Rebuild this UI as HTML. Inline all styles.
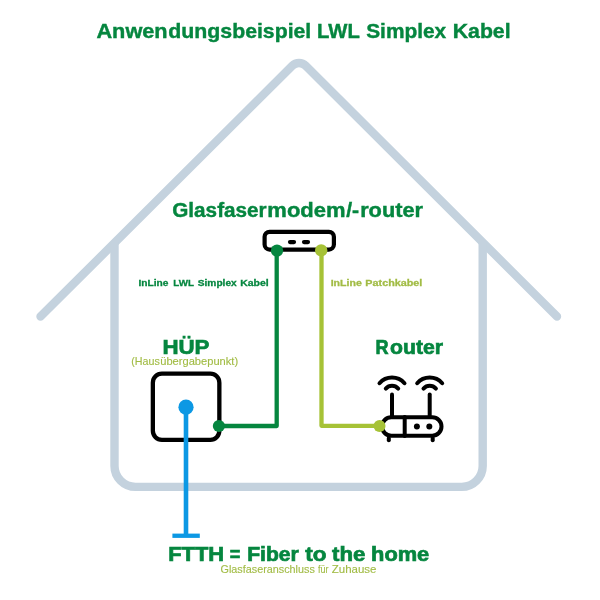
<!DOCTYPE html>
<html><head><meta charset="utf-8">
<style>
html,body{margin:0;padding:0;background:#fff;width:600px;height:600px;overflow:hidden}
svg{display:block;will-change:transform}
text{font-family:"Liberation Sans",sans-serif}
</style></head>
<body>
<svg width="600" height="600" viewBox="0 0 600 600">
<rect width="600" height="600" fill="#fff"/>
<g fill="none" stroke="#c4d2de" stroke-width="8.4" stroke-linecap="round" stroke-linejoin="round">
<path d="M40.5 316.6 L292.28 65.72 A9.5 9.5 0 0 1 305.72 65.72 L557 316.5"/>
<path d="M114.5 242.5 V466 A21 21 0 0 0 135.5 486.9 H461.7 A21 21 0 0 0 482.7 466 V243" stroke-linecap="butt"/>
</g>
<g fill="none" stroke="#000" stroke-width="4.2" stroke-linecap="round">
<rect x="264.6" y="231.8" width="69.3" height="17.8" rx="5"/>
<line x1="290" y1="242.1" x2="294" y2="242.1"/>
<line x1="304" y1="242.1" x2="308" y2="242.1"/>
</g>
<rect x="152.85" y="373.65" width="66.5" height="66.2" rx="9" fill="none" stroke="#000" stroke-width="4.3"/>
<g fill="none" stroke="#000" stroke-width="4" stroke-linecap="round">
<rect x="382" y="417.3" width="59.5" height="18.4" rx="9.2"/>
<line x1="404.7" y1="417" x2="404.7" y2="436"/>
<line x1="392" y1="394.4" x2="392" y2="417"/>
<line x1="429.7" y1="394.4" x2="429.7" y2="417"/>
<line x1="388.8" y1="438" x2="388.8" y2="440.2"/>
<line x1="432.7" y1="438" x2="432.7" y2="440.2"/>
<path d="M379.5 383.2 A16.6 16.6 0 0 1 404.5 383.2"/>
<path d="M385.8 388.6 A8.4 8.4 0 0 1 398.2 388.6"/>
<path d="M417.2 383.2 A16.6 16.6 0 0 1 442.2 383.2"/>
<path d="M423.5 388.6 A8.4 8.4 0 0 1 435.9 388.6"/>
</g>
<circle cx="416.9" cy="426.6" r="3" fill="#000"/>
<circle cx="429.3" cy="426.6" r="3" fill="#000"/>
<g stroke="#0c98e4" fill="none">
<line x1="186" y1="407" x2="186" y2="536" stroke-width="4.6"/>
<line x1="172.4" y1="535.75" x2="199.8" y2="535.75" stroke-width="4.3"/>
</g>
<circle cx="186" cy="407.2" r="7.6" fill="#0c98e4"/>
<path d="M218.7 426 H276.7 V250" fill="none" stroke="#05863f" stroke-width="4.3" stroke-linejoin="round"/>
<circle cx="218.9" cy="426" r="6.1" fill="#05863f"/>
<circle cx="277" cy="250.6" r="6.2" fill="#05863f"/>
<path d="M321.5 250 V425.8 H380" fill="none" stroke="#a6c236" stroke-width="4.3" stroke-linejoin="round"/>
<circle cx="321.2" cy="250.4" r="6.2" fill="#a6c236"/>
<circle cx="379.5" cy="426" r="6" fill="#a6c236"/>

<text transform="translate(96.43 37.65) scale(1.0656 1)" font-size="20.4" font-weight="bold" fill="#05863f" stroke="#05863f" stroke-width="0.4">Anwen</text>
<text transform="translate(168.22 37.65) scale(1.0460 1)" font-size="20.4" font-weight="bold" fill="#05863f" stroke="#05863f" stroke-width="0.4">dungs</text>
<text transform="translate(232.20 37.65) scale(1.0408 1)" font-size="20.4" font-weight="bold" fill="#05863f" stroke="#05863f" stroke-width="0.4">beispiel</text>
<text transform="translate(317.06 37.65) scale(0.9939 1)" font-size="20.4" font-weight="bold" fill="#05863f" stroke="#05863f" stroke-width="0.4">LWL</text>
<text transform="translate(366.19 37.65) scale(1.0238 1)" font-size="20.4" font-weight="bold" fill="#05863f" stroke="#05863f" stroke-width="0.4">Simplex</text>
<text transform="translate(452.70 37.65) scale(1.0434 1)" font-size="20.4" font-weight="bold" fill="#05863f" stroke="#05863f" stroke-width="0.4">Kabel</text>
<text transform="translate(172.22 217.1) scale(1.0684 1)" font-size="19.4" font-weight="bold" fill="#05863f" stroke="#05863f" stroke-width="0.4">Glasfaser</text>
<text transform="translate(267.37 217.1) scale(1.1343 1)" font-size="19.4" font-weight="bold" fill="#05863f" stroke="#05863f" stroke-width="0.4">modem</text>
<text transform="translate(346.25 217.1) scale(1.0889 1)" font-size="19.4" font-weight="bold" fill="#05863f" stroke="#05863f" stroke-width="0.4">/-</text>
<text transform="translate(360.13 217.1) scale(1.1227 1)" font-size="19.4" font-weight="bold" fill="#05863f" stroke="#05863f" stroke-width="0.4">router</text>
<text transform="translate(138.38 286.1) scale(1.0407 1)" font-size="9.8" font-weight="bold" fill="#05863f" stroke="#05863f" stroke-width="0.3">InLine</text>
<text transform="translate(173.20 286.1) scale(1.0000 1)" font-size="9.8" font-weight="bold" fill="#05863f" stroke="#05863f" stroke-width="0.3">LWL</text>
<text transform="translate(197.74 286.1) scale(1.0400 1)" font-size="9.8" font-weight="bold" fill="#05863f" stroke="#05863f" stroke-width="0.3">Simplex</text>
<text transform="translate(240.16 286.1) scale(1.0718 1)" font-size="9.8" font-weight="bold" fill="#05863f" stroke="#05863f" stroke-width="0.3">Kabel</text>
<text transform="translate(330.66 286.1) scale(1.0814 1)" font-size="9.8" font-weight="bold" fill="#a2bc45" stroke="#a2bc45" stroke-width="0.3">InLine</text>
<text transform="translate(365.35 286.1) scale(1.1034 1)" font-size="9.8" font-weight="bold" fill="#a2bc45" stroke="#a2bc45" stroke-width="0.3">Patchkabel</text>
<text transform="translate(162.42 353.9) scale(1.0769 1)" font-size="20.7" font-weight="bold" fill="#05863f" stroke="#05863f" stroke-width="0.7">HÜP</text>
<text transform="translate(131.28 364.6) scale(1.0430 1)" font-size="10.3" font-weight="normal" fill="#a2bc45" stroke="#a2bc45" stroke-width="0.12">(Haus</text>
<text transform="translate(160.19 364.6) scale(1.0813 1)" font-size="10.3" font-weight="normal" fill="#a2bc45" stroke="#a2bc45" stroke-width="0.12">übergabepunkt)</text>
<text transform="translate(375.38 353.8) scale(0.8750 1)" font-size="20.7" font-weight="bold" fill="#05863f" stroke="#05863f" stroke-width="0.7">R</text>
<text transform="translate(389.99 353.8) scale(1.0244 1)" font-size="20.7" font-weight="bold" fill="#05863f" stroke="#05863f" stroke-width="0.7">outer</text>
<text transform="translate(168.20 560.9) scale(1.0539 1)" font-size="20.8" font-weight="bold" fill="#05863f" stroke="#05863f" stroke-width="0.7">FTTH</text>
<text transform="translate(229.76 560.9) scale(0.8711 1)" font-size="20.8" font-weight="bold" fill="#05863f" stroke="#05863f" stroke-width="0.7">=</text>
<text transform="translate(247.18 560.9) scale(1.0151 1)" font-size="20.8" font-weight="bold" fill="#05863f" stroke="#05863f" stroke-width="0.7">Fiber</text>
<text transform="translate(305.20 560.9) scale(1.0805 1)" font-size="20.8" font-weight="bold" fill="#05863f" stroke="#05863f" stroke-width="0.7">to</text>
<text transform="translate(332.10 560.9) scale(1.0699 1)" font-size="20.8" font-weight="bold" fill="#05863f" stroke="#05863f" stroke-width="0.7">the</text>
<text transform="translate(371.05 560.9) scale(1.0500 1)" font-size="20.8" font-weight="bold" fill="#05863f" stroke="#05863f" stroke-width="0.7">home</text>
<text transform="translate(220.48 572.6) scale(1.0303 1)" font-size="10.5" font-weight="normal" fill="#a2bc45" stroke="#a2bc45" stroke-width="0.12">Glasfaseranschluss</text>
<text transform="translate(318.00 572.6) scale(0.8571 1)" font-size="10.5" font-weight="normal" fill="#a2bc45" stroke="#a2bc45" stroke-width="0.12">für</text>
<text transform="translate(331.73 572.6) scale(1.0932 1)" font-size="10.5" font-weight="normal" fill="#a2bc45" stroke="#a2bc45" stroke-width="0.12">Zuhause</text>
</svg>
</body></html>
